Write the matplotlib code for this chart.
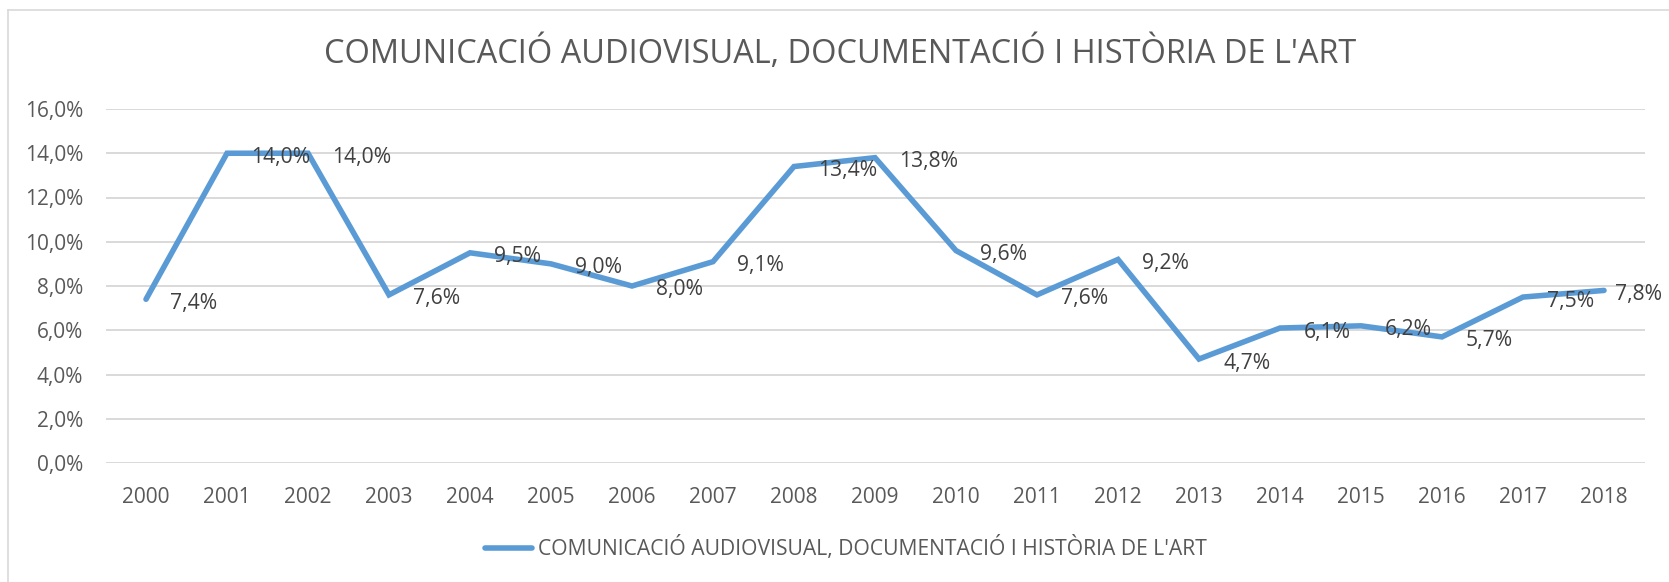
import matplotlib
matplotlib.use("Agg")
import matplotlib.pyplot as plt
from matplotlib.lines import Line2D
from matplotlib.ticker import FuncFormatter, MultipleLocator

plt.rcParams['font.family'] = ['Open Sans', 'DejaVu Sans']

title = "COMUNICACIÓ AUDIOVISUAL, DOCUMENTACIÓ I HISTÒRIA DE L'ART"
years = ["2000", "2001", "2002", "2003", "2004", "2005", "2006", "2007", "2008", "2009",
         "2010", "2011", "2012", "2013", "2014", "2015", "2016", "2017", "2018"]
values = [7.4, 14.0, 14.0, 7.6, 9.5, 9.0, 8.0, 9.1, 13.4, 13.8,
          9.6, 7.6, 9.2, 4.7, 6.1, 6.2, 5.7, 7.5, 7.8]

W, H = 1669, 582
fig = plt.figure(figsize=(W / 100, H / 100), dpi=100)
ax = fig.add_axes([105.5 / W, 1 - 463 / H, (1644.5 - 105.5) / W, (463 - 109) / H])

line_color = "#5b9bd5"
grid_color = "#d9d9d9"
tick_color = "#595959"
label_color = "#404040"

x = list(range(len(years)))
fracs = [v / 100 for v in values]
ax.plot(x, fracs, color=line_color, lw=4.0, solid_joinstyle="miter",
        solid_capstyle="round", label=title, zorder=3)

# value labels sit to the right of each point; the last one is pulled in
# so it stays inside the chart area
for xi, v, f in zip(x, values, fracs):
    dx = 24 if xi < len(years) - 1 else 11
    ax.annotate(f"{v:.1f}%".replace(".", ","), (xi, f), xytext=(dx, -4),
                textcoords="offset pixels", ha="left", va="center",
                fontsize=15.2, color=label_color, zorder=4)

ax.set_xlim(-0.5, len(years) - 0.5)
ax.set_ylim(0, 0.16)
ax.yaxis.set_major_locator(MultipleLocator(0.02))
ax.yaxis.set_major_formatter(FuncFormatter(lambda v, p: f"{v * 100:.1f}%".replace(".", ",")))
ax.set_xticks(x)
ax.set_xticklabels(years)
ax.grid(axis="y", color=grid_color, lw=1.4)
ax.set_axisbelow(True)
for s in ax.spines.values():
    s.set_visible(False)
ax.tick_params(axis="both", length=0, labelsize=15, labelcolor=tick_color)
ax.tick_params(axis="y", pad=16)
ax.tick_params(axis="x", pad=17)

fig.text(840 / W, 1 - 53 / H, title, ha="center", va="center",
         fontsize=23.4, color=tick_color)

fig.legend(handles=[Line2D([0], [0], color=line_color, lw=4.0, solid_capstyle="round")],
           labels=[title], loc="center", bbox_to_anchor=(846 / W, 1 - 548 / H),
           frameon=False, fontsize=15.2, labelcolor=tick_color,
           handlelength=2.2, handletextpad=0.3)

# chart area border (top and left edges)
fig.add_artist(Line2D([8 / W, 8 / W], [0, 1 - 10 / H], transform=fig.transFigure,
                      color=grid_color, lw=1.2))
fig.add_artist(Line2D([8 / W, 1], [1 - 10 / H, 1 - 10 / H], transform=fig.transFigure,
                      color=grid_color, lw=1.2))

fig.savefig("out.png", dpi=100)
